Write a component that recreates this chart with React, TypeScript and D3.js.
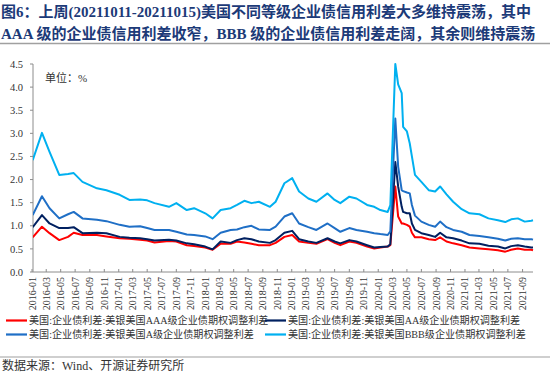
import React from "react";
import * as d3 from "d3";

const titleLine1 = "图6：上周(20211011-20211015)美国不同等级企业债信用利差大多维持震荡，其中";
const titleLine2 = "AAA 级的企业债信用利差收窄，BBB 级的企业债信用利差走阔，其余则维持震荡";
const unitLabel = "单位：%";
const sourceText = "数据来源：Wind、开源证券研究所";

const seriesNames = [
  "美国:企业债利差:美银美国AAA级企业债期权调整利差",
  "美国:企业债利差:美银美国AA级企业债期权调整利差",
  "美国:企业债利差:美银美国A级企业债期权调整利差",
  "美国:企业债利差:美银美国BBB级企业债期权调整利差",
];
const seriesColors = ["#FF0000", "#002060", "#1F6FC6", "#00B0F0"];

const dates = [
  "2016-01-04", "2016-02-12", "2016-03-15", "2016-04-25", "2016-06-01", "2016-06-25",
  "2016-08-01", "2016-10-01", "2016-11-10", "2017-01-05", "2017-02-15", "2017-04-01",
  "2017-05-01", "2017-06-01", "2017-08-01", "2017-09-01", "2017-10-15", "2017-11-15",
  "2018-01-01", "2018-02-01", "2018-03-07", "2018-04-18", "2018-05-15", "2018-06-15",
  "2018-07-15", "2018-08-15", "2018-10-01", "2018-10-25", "2018-12-01", "2019-01-03",
  "2019-02-01", "2019-03-12", "2019-04-15", "2019-06-01", "2019-07-01", "2019-07-25",
  "2019-09-01", "2019-10-01", "2019-11-15", "2019-12-15", "2020-01-10", "2020-02-10",
  "2020-02-21", "2020-03-13", "2020-03-25", "2020-04-09", "2020-04-15", "2020-05-01",
  "2020-05-13", "2020-05-22", "2020-06-04", "2020-07-01", "2020-08-01", "2020-08-28",
  "2020-09-18", "2020-10-15", "2020-11-12", "2020-12-18", "2021-01-20", "2021-03-03",
  "2021-04-10", "2021-05-20", "2021-06-20", "2021-07-15", "2021-08-12", "2021-09-10",
  "2021-10-08", "2021-10-15",
];

const aaa = [
  0.75, 0.98, 0.84, 0.69, 0.76, 0.85,
  0.80, 0.80, 0.77, 0.73, 0.72, 0.70,
  0.68, 0.64, 0.67, 0.66, 0.58, 0.56,
  0.53, 0.48, 0.61, 0.61, 0.66, 0.64,
  0.61, 0.58, 0.58, 0.63, 0.76, 0.80,
  0.66, 0.63, 0.61, 0.71, 0.63, 0.58,
  0.66, 0.63, 0.55, 0.51, 0.53, 0.55,
  0.58, 1.85, 1.20, 1.05, 1.05, 1.02,
  0.98, 0.85, 0.75, 0.75, 0.71, 0.69,
  0.75, 0.66, 0.62, 0.58, 0.53, 0.51,
  0.49, 0.47, 0.44, 0.48, 0.51, 0.48,
  0.48, 0.47,
];
const aa = [
  0.97, 1.23, 1.05, 0.95, 0.95, 0.97,
  0.84, 0.85, 0.84, 0.76, 0.74, 0.73,
  0.71, 0.68, 0.70, 0.68, 0.62, 0.60,
  0.55, 0.49, 0.66, 0.63, 0.69, 0.73,
  0.71, 0.66, 0.63, 0.69, 0.85, 0.89,
  0.71, 0.66, 0.63, 0.73, 0.66, 0.62,
  0.69, 0.66, 0.58, 0.53, 0.54, 0.55,
  0.60, 2.38, 1.85, 1.41, 1.30, 1.27,
  1.27, 1.05, 0.91, 0.84, 0.80, 0.76,
  0.85, 0.75, 0.73, 0.68, 0.62, 0.61,
  0.57, 0.55, 0.51, 0.56, 0.58, 0.55,
  0.53, 0.53,
];
const aRated = [
  1.23, 1.64, 1.38, 1.16, 1.25, 1.30,
  1.16, 1.13, 1.10, 1.02, 0.98, 0.99,
  0.95, 0.91, 0.91, 0.87, 0.81, 0.80,
  0.77, 0.71, 0.85, 0.91, 0.92, 0.97,
  1.00, 0.92, 0.91, 0.98, 1.20, 1.27,
  1.05, 0.97, 0.91, 1.05, 0.95, 0.87,
  0.95, 0.91, 0.87, 0.84, 0.82, 0.80,
  0.88, 3.32, 2.28, 1.77, 1.75, 1.72,
  1.70, 1.45, 1.22, 1.09, 1.02, 0.98,
  1.09, 0.97, 0.91, 0.87, 0.80, 0.78,
  0.75, 0.72, 0.68, 0.72, 0.73, 0.71,
  0.71, 0.70,
];
const bbb = [
  2.42, 3.01, 2.60, 2.10, 2.12, 2.14,
  1.95, 1.81, 1.77, 1.67, 1.56, 1.57,
  1.55, 1.49, 1.41, 1.49, 1.34, 1.38,
  1.27, 1.16, 1.34, 1.38, 1.45, 1.54,
  1.49, 1.52, 1.41, 1.52, 1.92, 2.03,
  1.74, 1.59, 1.52, 1.70, 1.56, 1.49,
  1.63, 1.59, 1.45, 1.41, 1.34, 1.30,
  1.45, 4.50, 4.06, 3.87, 3.14, 3.04,
  2.78, 2.50, 2.10, 1.95, 1.77, 1.74,
  1.85, 1.68, 1.52, 1.36, 1.27, 1.25,
  1.16, 1.12, 1.08, 1.14, 1.16, 1.09,
  1.11, 1.12,
];

const yTicks = [0, 0.5, 1.0, 1.5, 2.0, 2.5, 3.0, 3.5, 4.0, 4.5];

const W = 550;
const H = 375;
const plot = { left: 33, right: 533, top: 64, bottom: 272 };
const latin = "'Liberation Serif', 'Times New Roman', 'Noto Sans CJK SC', serif";
const cjk = "'Liberation Serif', 'Noto Sans CJK SC', sans-serif";

export default function App() {
  const parse = d3.timeParse("%Y-%m-%d");
  const parsed = dates.map((d) => parse(d) as Date);
  const x = d3
    .scaleTime()
    .domain([new Date(2016, 0, 1), new Date(2021, 9, 15)])
    .range([plot.left - 1, plot.right]);
  const y = d3.scaleLinear().domain([0, 4.5]).range([plot.bottom, plot.top]);
  const xTicks = d3.timeMonth.every(2)!.range(new Date(2016, 0, 1), new Date(2021, 9, 1));
  const fmt = d3.timeFormat("%Y-%m");
  const allSeries = [aaa, aa, aRated, bbb];
  const line = d3
    .line<number>()
    .x((_, i) => x(parsed[i]))
    .y((v) => y(v));

  return (
    <svg
      width={W}
      height={H}
      style={{ position: "absolute", left: 0, top: 0, background: "#fff" }}
    >
      <rect x={0} y={0} width={W} height={H} fill="#fff" />
      <defs>
        <clipPath id="plotClip">
          <rect x={plot.left} y={plot.top - 1} width={plot.right - plot.left + 2} height={plot.bottom - plot.top + 1} />
        </clipPath>
      </defs>
      <text x={1} y={17} fontSize={15} fontWeight="bold" fill="#1C3A78" fontFamily={cjk}>
        {titleLine1}
      </text>
      <text x={1} y={39} fontSize={15} fontWeight="bold" fill="#1C3A78" fontFamily={cjk}>
        {titleLine2}
      </text>
      <line x1={0} x2={550} y1={43.5} y2={43.5} stroke="#A0A0A0" strokeWidth={1.5} />

      {/* y axis */}
      <line x1={plot.left} x2={plot.left} y1={plot.top} y2={plot.bottom} stroke="#8C8C8C" strokeWidth={1} />
      {yTicks.map((t) => (
        <g key={t}>
          <line x1={plot.left - 3} x2={plot.left} y1={y(t)} y2={y(t)} stroke="#8C8C8C" />
          <text x={23} y={y(t)} dy="0.35em" textAnchor="end" fontSize={10.5} fill="#333" fontFamily={latin}>
            {t.toFixed(1)}
          </text>
        </g>
      ))}

      {/* x axis */}
      <line x1={plot.left} x2={plot.right} y1={plot.bottom} y2={plot.bottom} stroke="#8C8C8C" strokeWidth={1} />
      {xTicks.map((d) => (
        <g key={d.toISOString()}>
          <line x1={x(d)} x2={x(d)} y1={plot.bottom - 3} y2={plot.bottom} stroke="#8C8C8C" />
          <text
            transform={`translate(${x(d) + 3.5},${plot.bottom + 5}) rotate(-90)`}
            textAnchor="end"
            fontSize={10}
            fill="#333"
            fontFamily={latin}
          >
            {fmt(d)}
          </text>
        </g>
      ))}

      <text x={45} y={78} dy="0.35em" fontSize={11} fill="#333" fontFamily={cjk}>
        {unitLabel}
      </text>

      <g clipPath="url(#plotClip)">
        {allSeries.map((s, i) => (
          <path key={i} d={line(s) || ""} fill="none" stroke={seriesColors[i]} strokeWidth={2} strokeLinejoin="round" />
        ))}
      </g>

      {/* legend */}
      {seriesNames.map((name, i) => {
        const col = i % 2;
        const row = Math.floor(i / 2);
        const lx = col === 0 ? 6 : 265;
        const ly = row === 0 ? 320.5 : 334.5;
        return (
          <g key={name}>
            <line x1={lx} x2={lx + 21} y1={ly} y2={ly} stroke={seriesColors[i]} strokeWidth={2.2} />
            <text x={lx + 23} y={ly} dy="0.35em" fontSize={10.1} fill="#333" fontFamily={cjk}>
              {name}
            </text>
          </g>
        );
      })}

      <line x1={0} x2={550} y1={357} y2={357} stroke="#A0A0A0" strokeWidth={1.2} />
      <text x={2} y={366} dy="0.35em" fontSize={12} fill="#333" fontFamily={cjk}>
        {sourceText}
      </text>
    </svg>
  );
}
